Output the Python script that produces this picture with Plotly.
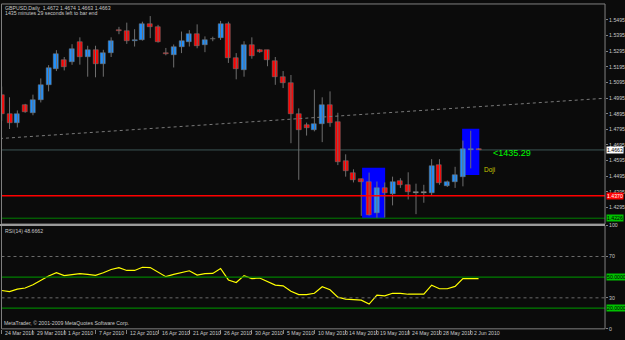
import plotly.graph_objects as go

# ---------------- data ----------------
date_labels = ["24 Mar 2010", "29 Mar 2010", "1 Apr 2010", "7 Apr 2010", "12 Apr 2010",
               "16 Apr 2010", "21 Apr 2010", "26 Apr 2010", "30 Apr 2010", "5 May 2010",
               "10 May 2010", "14 May 2010", "19 May 2010", "24 May 2010", "28 May 2010",
               "2 Jun 2010"]
date_label_bars = [0, 4, 8, 12, 16, 20, 24, 28, 32, 36, 40, 44, 48, 52, 56, 60]

opens = [1.5017, 1.4891, 1.4838, 1.4948, 1.4901, 1.4981, 1.5080, 1.5184, 1.5239, 1.5226,
         1.5352, 1.5260, 1.5302, 1.5212, 1.5283, 1.5434, 1.5426, 1.5363, 1.5369, 1.5467,
         1.5451, 1.5283, 1.5272, 1.5325, 1.5352, 1.5407, 1.5335, 1.5373, 1.5377, 1.5472,
         1.5252, 1.5178, 1.5338, 1.5306, 1.5300, 1.5233, 1.5130, 1.5094, 1.4891, 1.4824,
         1.4793, 1.4828, 1.4954, 1.4843, 1.4591, 1.4516, 1.4476, 1.4461, 1.4258, 1.4420,
         1.4382, 1.4464, 1.4436, 1.4388, 1.4388, 1.4388, 1.4566, 1.4430, 1.4457, 1.4492,
         1.4667, 1.4672]
highs = [1.5069, 1.5000, 1.4916, 1.4958, 1.5017, 1.5121, 1.5206, 1.5302, 1.5258, 1.5340,
         1.5384, 1.5330, 1.5330, 1.5304, 1.5384, 1.5451, 1.5478, 1.5436, 1.5484, 1.5520,
         1.5464, 1.5316, 1.5338, 1.5421, 1.5430, 1.5467, 1.5390, 1.5388, 1.5489, 1.5484,
         1.5283, 1.5359, 1.5384, 1.5310, 1.5304, 1.5258, 1.5168, 1.5143, 1.4929, 1.4838,
         1.5049, 1.5000, 1.5038, 1.4901, 1.4635, 1.4539, 1.4480, 1.4518, 1.4461, 1.4455,
         1.4492, 1.4482, 1.4520, 1.4447, 1.4440, 1.4604, 1.4604, 1.4467, 1.4555, 1.4723,
         1.4786, 1.4674]
lows = [1.4849, 1.4797, 1.4807, 1.4901, 1.4885, 1.4967, 1.5038, 1.5168, 1.5172, 1.5208,
        1.5209, 1.5132, 1.5128, 1.5132, 1.5258, 1.5404, 1.5342, 1.5325, 1.5363, 1.5379,
        1.5350, 1.5269, 1.5191, 1.5283, 1.5325, 1.5314, 1.5289, 1.5359, 1.5367, 1.5220,
        1.5115, 1.5132, 1.5247, 1.5285, 1.5199, 1.5080, 1.5059, 1.4706, 1.4472, 1.4755,
        1.4782, 1.4713, 1.4811, 1.4566, 1.4492, 1.4455, 1.4241, 1.4243, 1.4226, 1.4231,
        1.4308, 1.4420, 1.4346, 1.4252, 1.4325, 1.4371, 1.4440, 1.4426, 1.4420, 1.4430,
        1.4545, 1.4663]
closes = [1.4891, 1.4838, 1.4891, 1.4908, 1.4986, 1.5076, 1.5189, 1.5277, 1.5193, 1.5308,
          1.5258, 1.5300, 1.5216, 1.5283, 1.5363, 1.5426, 1.5359, 1.5369, 1.5467, 1.5451,
          1.5352, 1.5275, 1.5325, 1.5359, 1.5404, 1.5331, 1.5365, 1.5373, 1.5472, 1.5252,
          1.5184, 1.5338, 1.5262, 1.5289, 1.5237, 1.5128, 1.5090, 1.4891, 1.4793, 1.4801,
          1.4828, 1.4950, 1.4838, 1.4587, 1.4528, 1.4472, 1.4459, 1.4245, 1.4420, 1.4388,
          1.4455, 1.4436, 1.4392, 1.4388, 1.4388, 1.4562, 1.4451, 1.4461, 1.4503, 1.4667,
          1.4672, 1.4663]
rsi = [37.1, 36.1, 38.5, 39.5, 42.6, 46.7, 51.1, 54.3, 51.5, 52.4,
       53.4, 52.7, 51.7, 54.3, 57.4, 59.3, 56.5, 56.5, 59.6, 59.3,
       54.6, 50.5, 52.7, 54.3, 56.2, 52.0, 53.4, 53.6, 58.4, 47.3,
       44.8, 51.5, 48.6, 49.2, 45.8, 42.3, 41.6, 36.3, 33.1, 33.1,
       34.4, 40.7, 37.8, 30.7, 28.8, 28.1, 27.8, 24.0, 32.6, 31.9,
       34.4, 34.4, 33.5, 33.5, 33.5, 42.3, 38.8, 38.8, 41.1, 48.6,
       48.6, 48.6662]

price_ticks = [1.4295, 1.4395, 1.4495, 1.4595, 1.4695, 1.4795, 1.4895, 1.4995,
               1.5095, 1.5195, 1.5295, 1.5395, 1.5495]
rsi_ticks = [0, 30, 70, 100]

current_price = 1.4663
red_level = 1.4370
green_level = 1.4226
rsi_levels_dotted = [30, 70]
rsi_levels_green = [20, 50]

rect1 = dict(x0=46.1, x1=49.05, y0=1.4225, y1=1.4549)
rect2 = dict(x0=58.9, x1=61.1, y0=1.4503, y1=1.4799)
trend = dict(x0=-0.22, y0=1.4736, x1=77.2, y1=1.4994)

# ---------------- style ----------------
BG = "#0b0b0b"
GREY = "#808080"
TXT = "#c8c8c8"
FONT = "Liberation Sans"
BULL = "#1e90ff"
BEAR = "#ff0000"
DOJI = "#c0c0c0"

n = len(opens)
idx = list(range(n))

wx, wy = [], []
for i in idx:
    wx += [i, i, None]
    wy += [lows[i], highs[i], None]

base, height, colors = [], [], []
for o, c in zip(opens, closes):
    lo, hi = min(o, c), max(o, c)
    h = max(hi - lo, 0.00055)
    base.append(lo if hi - lo >= 0.00055 else lo - 0.00027)
    height.append(h)
    colors.append(BULL if c > o else (BEAR if c < o else DOJI))

fig = go.Figure()
fig.add_trace(go.Scatter(x=wx, y=wy, mode="lines", line=dict(color="#6e6e6e", width=1),
                         hoverinfo="skip", showlegend=False, xaxis="x", yaxis="y"))
fig.add_trace(go.Bar(x=idx, y=height, base=base, width=0.64,
                     marker=dict(color=colors, line=dict(color="#7a7a7a", width=0.5)),
                     showlegend=False, xaxis="x", yaxis="y"))
fig.add_trace(go.Scatter(x=idx, y=rsi, mode="lines", line=dict(color="#ffff00", width=1.2),
                         showlegend=False, xaxis="x2", yaxis="y2"))

XD = [1.5 / 625, 606 / 625]
YD_MAIN = [1 - 225 / 340, 1 - 1 / 340]
YD_RSI = [1 - 331.7 / 340, 1 - 226.5 / 340]
XR = [-0.026, 77.18]

shapes = []
for r in (rect1, rect2):
    shapes.append(dict(type="rect", xref="x", yref="y", layer="below", line=dict(width=0),
                       fillcolor="#0000ff", **r))
shapes.append(dict(type="line", xref="x", yref="y", line=dict(color="#7a7a7a", width=1, dash="dot"),
                   **trend))
shapes.append(dict(type="line", xref="x domain", yref="y", x0=0, x1=1, y0=current_price, y1=current_price,
                   line=dict(color="#3d5656", width=1), layer="below"))
shapes.append(dict(type="line", xref="x domain", yref="y", x0=0, x1=1, y0=red_level, y1=red_level,
                   line=dict(color="#ff0000", width=1.5)))
shapes.append(dict(type="line", xref="x domain", yref="y", x0=0, x1=1, y0=green_level, y1=green_level,
                   line=dict(color="#008000", width=1)))
for lv in rsi_levels_dotted:
    shapes.append(dict(type="line", xref="x2 domain", yref="y2", x0=0, x1=1, y0=lv, y1=lv,
                       line=dict(color="#6a6a6a", width=1, dash="dot")))
for lv in rsi_levels_green:
    shapes.append(dict(type="line", xref="x2 domain", yref="y2", x0=0, x1=1, y0=lv, y1=lv,
                       line=dict(color="#008000", width=1.2)))
shapes.append(dict(type="rect", xref="paper", yref="paper", x0=XD[0], x1=XD[1], y0=YD_MAIN[0], y1=YD_MAIN[1],
                   line=dict(color=GREY, width=1)))
shapes.append(dict(type="rect", xref="paper", yref="paper", x0=XD[0], x1=XD[1], y0=YD_RSI[0], y1=YD_RSI[1],
                   line=dict(color=GREY, width=1)))
shapes.append(dict(type="line", xref="paper", yref="paper", x0=0, x1=XD[1], y0=1 - 226 / 340, y1=1 - 226 / 340,
                   line=dict(color="#9a9a9a", width=2)))

small = dict(family=FONT, size=5.2, color=TXT)
ann = []
ann.append(dict(xref="paper", yref="paper", x=3 / 625, y=1 - 5 / 340, xanchor="left", yanchor="middle",
                text="GBPUSD,Daily  1.4672 1.4674 1.4663 1.4663", showarrow=False, font=small))
ann.append(dict(xref="paper", yref="paper", x=3 / 625, y=1 - 10.5 / 340, xanchor="left", yanchor="middle",
                text="1435 minutes 29 seconds left to bar end", showarrow=False, font=small))
ann.append(dict(xref="paper", yref="paper", x=3 / 625, y=1 - 232 / 340, xanchor="left", yanchor="middle",
                text="RSI(14) 48.6662", showarrow=False, font=small))
ann.append(dict(xref="paper", yref="paper", x=2 / 625, y=1 - 325.5 / 340, xanchor="left", yanchor="middle",
                text="MetaTrader, © 2001-2009 MetaQuotes Software Corp.", showarrow=False, font=small))
for b, t in zip(date_label_bars, date_labels):
    ann.append(dict(xref="x2", yref="paper", x=b + 0.2, y=1 - 335.5 / 340, xanchor="left", yanchor="middle",
                    text=t, showarrow=False, font=small))
for val, bg, fg in ((current_price, "#ffffff", "#000000"), (red_level, "#ff0000", "#ffffff"),
                    (green_level, "#00c000", "#000000")):
    ann.append(dict(xref="paper", yref="y", x=607 / 625, y=val, xanchor="left", yanchor="middle",
                    text=f"{val:.4f}", showarrow=False, bgcolor=bg, borderpad=0,
                    font=dict(family=FONT, size=5.2, color=fg)))
for lv in rsi_levels_green:
    ann.append(dict(xref="paper", yref="y2", x=607 / 625, y=lv, xanchor="left", yanchor="middle",
                    text=f"{lv:.4f}", showarrow=False, bgcolor="#00c000", borderpad=0,
                    font=dict(family=FONT, size=5.2, color="#000000")))
ann.append(dict(xref="x", yref="y", x=62.6, y=1.4642, xanchor="left", yanchor="middle",
                text="<1435.29", showarrow=False, font=dict(family=FONT, size=9, color="#00ff00")))
ann.append(dict(xref="x", yref="y", x=61.5, y=1.4535, xanchor="left", yanchor="middle",
                text="Doji", showarrow=False, font=dict(family=FONT, size=6.5, color="#c8c800")))

fig.update_layout(
    width=625, height=340, margin=dict(l=0, r=0, t=0, b=0),
    paper_bgcolor=BG, plot_bgcolor=BG, bargap=0, showlegend=False,
    xaxis=dict(domain=XD, range=XR, anchor="y", showgrid=False, zeroline=False, showticklabels=False,
               ticks=""),
    yaxis=dict(domain=YD_MAIN, range=[1.41887, 1.55975], anchor="x", side="right", showgrid=False,
               zeroline=False, tickvals=price_ticks, ticktext=[f"{v:.4f}" for v in price_ticks],
               ticks="outside", ticklen=2, tickcolor=GREY, tickfont=small, showline=False),
    xaxis2=dict(domain=XD, range=XR, anchor="y2", matches="x", showgrid=False, zeroline=False,
                tickvals=date_label_bars, ticktext=["" for _ in date_label_bars], ticks="outside",
                ticklen=4, tickcolor=GREY),
    yaxis2=dict(domain=YD_RSI, range=[0, 100], anchor="x2", side="right", showgrid=False, zeroline=False,
                tickvals=rsi_ticks, ticktext=[str(v) for v in rsi_ticks], ticks="outside", ticklen=2,
                tickcolor=GREY, tickfont=small),
    shapes=shapes, annotations=ann,
)

fig.write_html("out.html")
